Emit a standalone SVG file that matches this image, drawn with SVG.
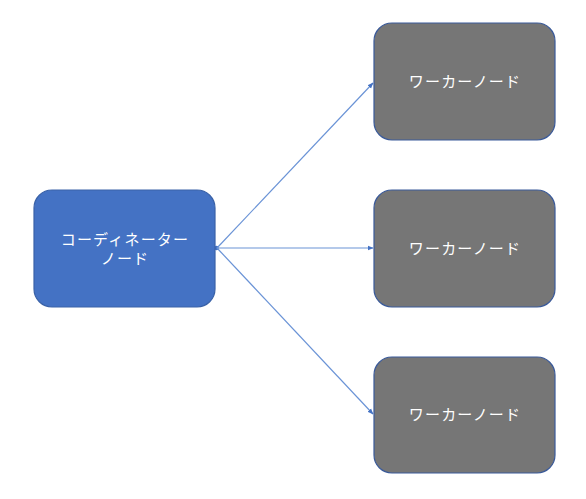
<svg xmlns="http://www.w3.org/2000/svg" width="586" height="499" viewBox="0 0 586 499">
<defs>
<style>
.coord{fill:#4472C4;stroke:#3A62A8;stroke-width:1.2}
.worker{fill:#767676;stroke:#3A5A9A;stroke-width:1.2}
.lbl{fill:#FFFFFF;font-family:"Noto Sans CJK JP","Noto Sans",sans-serif;font-size:15px;letter-spacing:1.2px;text-anchor:middle}
.conn{stroke:#6A93D6;stroke-width:1.2;fill:none;marker-end:url(#ah)}
</style>
<marker id="ah" viewBox="0 0 10 10" refX="9" refY="5" markerWidth="5" markerHeight="5" orient="auto" markerUnits="strokeWidth">
<path d="M0,1 L10,5 L0,9 Z" fill="#4472C4"/>
</marker>
</defs>
<rect width="586" height="499" fill="#FFFFFF"/>
<g id="connectors">
<circle cx="216.5" cy="248" r="2.2" fill="#4472C4"/>
<line class="conn" x1="217" y1="248" x2="373" y2="83"/>
<line class="conn" x1="217" y1="248" x2="373" y2="248"/>
<line class="conn" x1="217" y1="248" x2="373" y2="414"/>
</g>
<g id="coordinator">
<rect class="coord" x="34" y="190" width="181" height="117" rx="18"/>
<text class="lbl" x="125" y="245">コーディネーター</text>
<text class="lbl" x="125" y="264">ノード</text>
</g>
<g id="worker1">
<rect class="worker" x="374" y="23" width="181" height="117" rx="18"/>
<text class="lbl" x="465" y="87">ワーカーノード</text>
</g>
<g id="worker2">
<rect class="worker" x="374" y="190" width="181" height="117" rx="18"/>
<text class="lbl" x="465" y="254">ワーカーノード</text>
</g>
<g id="worker3">
<rect class="worker" x="374" y="357" width="181" height="116" rx="18"/>
<text class="lbl" x="465" y="420">ワーカーノード</text>
</g>
</svg>
